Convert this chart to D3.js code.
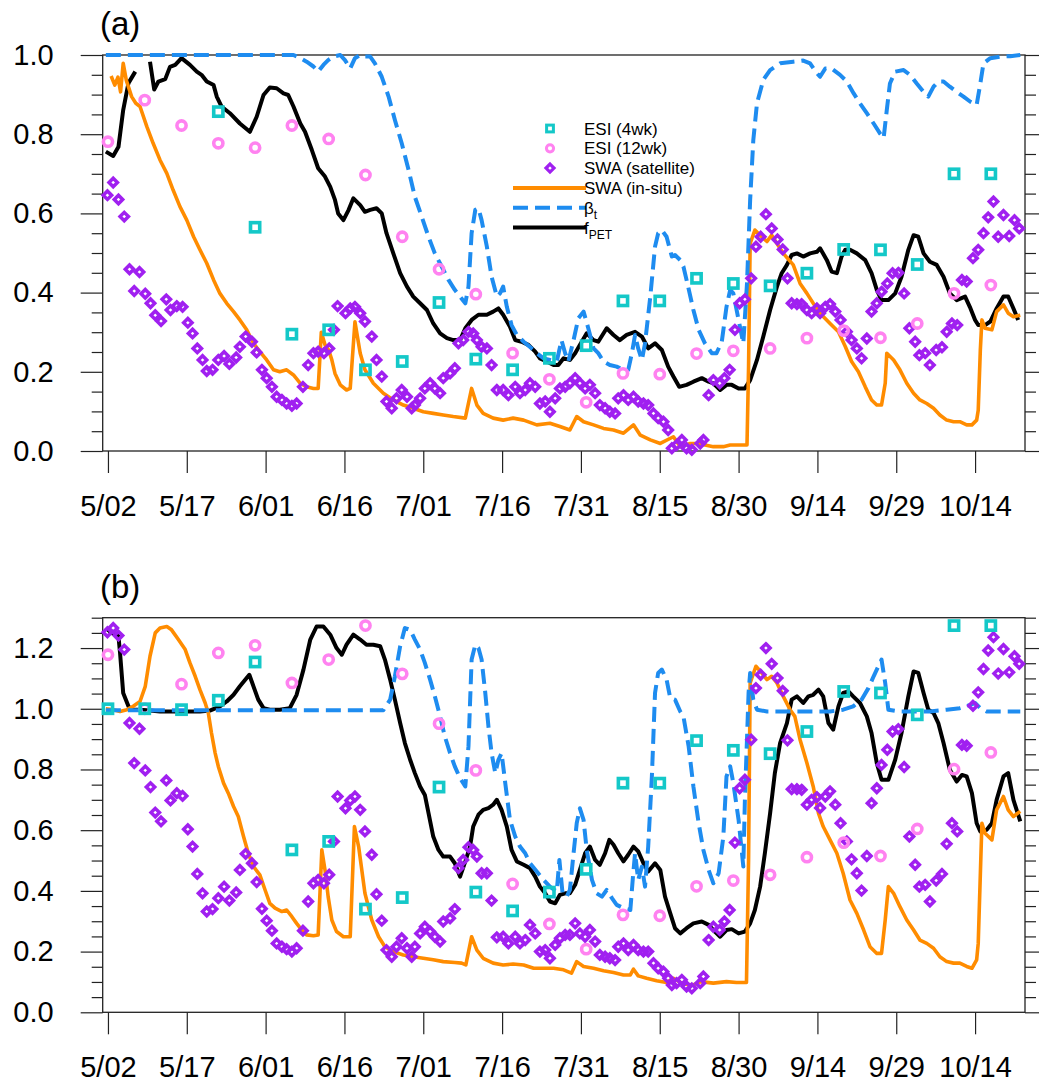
<!DOCTYPE html>
<html>
<head>
<meta charset="utf-8">
<script src="https://cdn.jsdelivr.net/npm/d3@7/dist/d3.min.js"></script>
<style>
  body { margin: 0; background: #fff; }
  svg { display: block; }
  text { font-family: "Liberation Sans", Arial, Helvetica, sans-serif; fill: #000; }
</style>
</head>
<body>
<svg id="chart" width="1039" height="1084"></svg>
<script>
// ---- time axis: day 0 = May 1 ----
const xTickDays = [1, 16, 31, 46, 61, 76, 91, 106, 121, 136, 151, 166];
const xTickLabels = ["5/02", "5/17", "6/01", "6/16", "7/01", "7/16", "7/31", "8/15", "8/30", "9/14", "9/29", "10/14"];

// ---- weekly ESI (4wk / 12wk) ----
const esiDays = [1, 8, 15, 22, 29, 36, 43, 50, 57, 64, 71, 78, 85, 92, 99, 106, 113, 120, 127, 134, 141, 148, 155, 162, 169];
const esi4A  = [null, null, null, 0.857, 0.565, 0.295, 0.306, 0.205, 0.226, 0.375, 0.232, 0.205, 0.234, 0.266, 0.379, 0.379, 0.436, 0.423, 0.417, 0.449, 0.509, 0.508, 0.471, 0.700, 0.700];
const esi12A = [0.781, 0.886, 0.822, 0.777, 0.766, 0.822, 0.788, 0.697, 0.541, 0.459, 0.396, 0.247, 0.181, 0.123, 0.196, 0.194, 0.246, 0.253, 0.259, 0.285, 0.304, 0.286, 0.322, 0.398, 0.419];
const esi4B  = [1.000, 1.000, 0.997, 1.028, 1.154, 0.535, 0.563, 0.340, 0.378, 0.742, 0.396, 0.334, 0.396, 0.471, 0.755, 0.755, 0.895, 0.863, 0.852, 0.925, 1.057, 1.052, 0.980, 1.274, 1.274];
const esi12B = [1.178, 1.000, 1.081, 1.184, 1.209, 1.085, 1.162, 1.274, 1.115, 0.951, 0.797, 0.423, 0.291, 0.208, 0.321, 0.318, 0.415, 0.434, 0.453, 0.511, 0.559, 0.515, 0.604, 0.801, 0.856];

// ---- satellite soil water availability ----
const swaDays = [
  0.9, 2.0, 3.0, 4.1, 5.1, 6.0, 7.0, 8.1, 9.1, 10.0,
  11.1, 12.1, 12.9, 14.1, 15.2, 16.2, 17.1, 18.0, 19.0, 19.8,
  20.9, 22.0, 23.1, 24.1, 25.4, 26.1, 27.2, 28.4, 29.3, 30.3,
  31.2, 32.2, 33.1, 34.1, 35.0, 36.0, 36.9, 38.1, 39.1, 40.1,
  41.0, 42.1, 43.1, 44.0, 44.7, 46.2, 47.1, 48.0, 49.0,
  49.9, 51.2, 52.1, 53.1, 54.0, 55.0, 55.9, 56.9, 57.9, 58.8,
  59.4, 60.4, 61.3, 62.3, 63.2, 64.2, 64.8, 66.1, 67.0, 67.7,
  68.6, 69.6, 70.5, 71.2, 72.1, 73.1, 74.0, 75.0, 76.2, 77.2,
  78.5, 79.4, 80.4, 81.3, 82.3, 83.2, 84.2, 85.1, 86.1, 87.0,
  88.0, 88.9, 89.9, 90.8, 91.8, 92.7, 93.7, 94.6, 95.6, 96.5,
  97.5, 98.1, 99.1, 100.0, 101.0, 101.9, 102.9, 103.8, 104.8, 105.7,
  106.7, 107.6, 108.3, 109.2, 110.2, 111.1, 112.1, 113.7,
  114.3, 115.3, 116.2, 117.4, 118.3, 119.3, 120.3, 121.2, 122.2, 123.4,
  124.3, 125.2, 126.2, 127.3, 128.4, 129.4, 130.3, 131.1, 132.1, 133.0,
  134.0, 134.9, 135.9, 136.5, 137.5, 138.4, 139.4, 140.4, 141.6, 142.5,
  143.5, 144.4, 145.4, 146.3, 147.3, 148.2, 149.3, 150.3, 151.4, 152.5,
  153.5, 154.6, 155.4, 156.5, 157.4, 158.6, 159.7, 160.6, 161.6, 162.6,
  163.5, 164.4, 165.6, 166.6, 167.6, 168.5, 169.5, 170.4, 171.4, 172.5,
  173.5, 174.4
];
const swaSatA = [
  0.646, 0.678, 0.635, 0.592, 0.459, 0.404, 0.452, 0.397, 0.373, 0.343,
  0.328, 0.383, 0.356, 0.366, 0.364, 0.324, 0.297, 0.259, 0.230, 0.202,
  0.205, 0.230, 0.240, 0.220, 0.236, 0.263, 0.289, 0.276, 0.249, 0.205,
  0.184, 0.162, 0.137, 0.129, 0.120, 0.114, 0.120, 0.162, 0.217, 0.247,
  0.251, 0.247, 0.259, 0.306, 0.366, 0.348, 0.360, 0.364, 0.348,
  0.327, 0.289, 0.230, 0.188, 0.125, 0.108, 0.133, 0.154, 0.137, 0.108,
  0.116, 0.133, 0.158, 0.171, 0.158, 0.146, 0.184, 0.196, 0.209, 0.272,
  0.280, 0.301, 0.297, 0.280, 0.263, 0.259, 0.217, 0.154, 0.154, 0.141,
  0.162, 0.146, 0.154, 0.171, 0.162, 0.120, 0.125, 0.099, 0.133, 0.158,
  0.162, 0.171, 0.184, 0.171, 0.158, 0.167, 0.146, 0.116, 0.108, 0.099,
  0.095, 0.133, 0.141, 0.129, 0.137, 0.125, 0.120, 0.116, 0.095, 0.083,
  0.074, 0.053, 0.007, 0.015, 0.028, 0.007, 0.003, 0.019,
  0.028, 0.141, 0.179, 0.171, 0.184, 0.205, 0.306, 0.373, 0.383, 0.436,
  0.516, 0.541, 0.598, 0.562, 0.534, 0.509, 0.436, 0.373, 0.371, 0.371,
  0.356, 0.348, 0.360, 0.348, 0.364, 0.371, 0.352, 0.331, 0.301, 0.280,
  0.259, 0.234, 0.284, 0.352, 0.373, 0.402, 0.423, 0.449, 0.450, 0.398,
  0.310, 0.276, 0.242, 0.247, 0.217, 0.255, 0.262, 0.301, 0.322, 0.318,
  0.432, 0.428, 0.487, 0.508, 0.550, 0.590, 0.630, 0.541, 0.596, 0.543,
  0.583, 0.562
];
const swaSatB = [
  1.252, 1.266, 1.241, 1.195, 0.953, 0.821, 0.934, 0.797, 0.742, 0.658,
  0.629, 0.764, 0.698, 0.722, 0.713, 0.603, 0.546, 0.456, 0.392, 0.332,
  0.340, 0.376, 0.414, 0.368, 0.395, 0.469, 0.522, 0.491, 0.429, 0.341,
  0.302, 0.269, 0.227, 0.216, 0.208, 0.200, 0.211, 0.269, 0.365, 0.425,
  0.436, 0.425, 0.453, 0.563, 0.711, 0.672, 0.698, 0.711, 0.667,
  0.596, 0.519, 0.389, 0.302, 0.205, 0.183, 0.216, 0.244, 0.211, 0.183,
  0.216, 0.260, 0.282, 0.266, 0.249, 0.233, 0.299, 0.310, 0.340, 0.475,
  0.502, 0.544, 0.535, 0.513, 0.458, 0.458, 0.368, 0.247, 0.249, 0.227,
  0.249, 0.227, 0.238, 0.288, 0.260, 0.200, 0.205, 0.178, 0.222, 0.244,
  0.255, 0.255, 0.293, 0.260, 0.249, 0.271, 0.233, 0.189, 0.183, 0.178,
  0.172, 0.216, 0.227, 0.205, 0.222, 0.205, 0.200, 0.200, 0.162, 0.145,
  0.134, 0.112, 0.090, 0.096, 0.107, 0.085, 0.079, 0.096,
  0.118, 0.238, 0.282, 0.271, 0.299, 0.337, 0.559, 0.738, 0.766, 0.898,
  1.068, 1.112, 1.200, 1.148, 1.101, 1.059, 0.896, 0.735, 0.735, 0.733,
  0.684, 0.700, 0.709, 0.673, 0.711, 0.728, 0.684, 0.623, 0.563, 0.504,
  0.458, 0.401, 0.515, 0.689, 0.738, 0.815, 0.865, 0.925, 0.933, 0.808,
  0.579, 0.486, 0.414, 0.420, 0.365, 0.434, 0.456, 0.555, 0.623, 0.596,
  0.881, 0.878, 1.010, 1.054, 1.131, 1.192, 1.236, 1.116, 1.197, 1.120,
  1.173, 1.148
];

// ---- in-situ soil water availability [day, value] ----
const swaInA = [
  [1.6, 0.947], [2.3, 0.924], [2.9, 0.944], [3.4, 0.907], [3.9, 0.979], [4.5, 0.936], [5.5, 0.895], [6.3, 0.878],
  [7.1, 0.870], [8.4, 0.819], [9.6, 0.777], [10.9, 0.735], [12.2, 0.701], [13.4, 0.659], [14.7, 0.617], [16.0, 0.583],
  [17.3, 0.541], [18.5, 0.508], [19.8, 0.474], [21.1, 0.432], [22.3, 0.398], [23.6, 0.373], [24.9, 0.352], [26.1, 0.331],
  [27.4, 0.306], [28.7, 0.272], [29.9, 0.251], [31.2, 0.230], [32.5, 0.205], [33.7, 0.200], [35.0, 0.205], [36.3, 0.192],
  [37.6, 0.171], [38.8, 0.162], [40.1, 0.158], [41.0, 0.158], [41.6, 0.300], [42.3, 0.268], [43.0, 0.255], [43.6, 0.230],
  [44.2, 0.196], [45.2, 0.167], [46.4, 0.154], [47.1, 0.158], [48.0, 0.326], [49.0, 0.247], [49.9, 0.205], [51.5, 0.171],
  [53.4, 0.146], [55.3, 0.129], [57.2, 0.116], [59.1, 0.108], [61.0, 0.099], [62.9, 0.095], [64.8, 0.091], [66.7, 0.087],
  [69.0, 0.083], [70.2, 0.158], [71.2, 0.116], [72.4, 0.095], [74.3, 0.083], [76.2, 0.078], [78.1, 0.083], [80.1, 0.078],
  [82.6, 0.066], [85.1, 0.070], [87.0, 0.062], [88.9, 0.053], [90.2, 0.087], [91.5, 0.074], [93.4, 0.066], [95.3, 0.057],
  [97.2, 0.053], [99.1, 0.045], [101.0, 0.066], [102.3, 0.040], [104.2, 0.028], [106.1, 0.019], [108.6, 0.036], [109.9, 0.011],
  [111.8, 0.019], [113.7, 0.019], [114.6, 0.015], [116.2, 0.011], [118.1, 0.011], [119.4, 0.015], [121.0, 0.015], [122.6, 0.015],
  [122.9, 0.213], [123.2, 0.524], [124.1, 0.558], [125.4, 0.541], [126.4, 0.529], [127.3, 0.545], [128.3, 0.524], [129.5, 0.499],
  [131.4, 0.470], [132.7, 0.423], [134.0, 0.398], [135.2, 0.373], [136.5, 0.348], [138.4, 0.322], [140.0, 0.301], [141.3, 0.264],
  [142.5, 0.226], [143.8, 0.200], [145.1, 0.162], [146.3, 0.129], [147.3, 0.116], [148.2, 0.116], [148.9, 0.171], [149.2, 0.247],
  [150.5, 0.230], [151.7, 0.205], [153.0, 0.171], [154.3, 0.146], [155.5, 0.129], [156.8, 0.120], [158.1, 0.108], [159.3, 0.091],
  [160.6, 0.078], [161.9, 0.074], [163.1, 0.074], [164.4, 0.066], [165.4, 0.066], [166.3, 0.078], [166.6, 0.103], [167.0, 0.255],
  [167.3, 0.331], [167.9, 0.310], [169.2, 0.306], [170.1, 0.352], [171.4, 0.369], [172.3, 0.348], [173.3, 0.339], [174.6, 0.343]
];
const swaInB = [
  [0.6, 1.000], [2.0, 0.997], [3.3, 0.991], [4.6, 0.997], [5.8, 1.008], [7.1, 1.024], [8.1, 1.074], [9.0, 1.173],
  [10.0, 1.250], [10.9, 1.266], [12.2, 1.271], [13.1, 1.260], [14.4, 1.228], [15.7, 1.195], [16.6, 1.151], [17.6, 1.107],
  [18.5, 1.063], [19.5, 1.019], [20.1, 0.986], [20.7, 0.920], [21.4, 0.854], [22.0, 0.810], [23.0, 0.755], [23.9, 0.722],
  [24.9, 0.678], [25.8, 0.645], [26.8, 0.579], [27.7, 0.524], [28.7, 0.480], [29.9, 0.453], [30.9, 0.403], [31.8, 0.359],
  [32.8, 0.343], [34.1, 0.332], [35.0, 0.337], [36.0, 0.315], [36.9, 0.293], [37.9, 0.271], [38.8, 0.255], [40.1, 0.252],
  [41.0, 0.255], [41.7, 0.535], [42.3, 0.469], [42.9, 0.381], [43.6, 0.304], [44.5, 0.266], [45.8, 0.249], [47.1, 0.249],
  [47.9, 0.612], [48.7, 0.546], [49.9, 0.392], [51.2, 0.304], [52.5, 0.249], [53.7, 0.216], [55.3, 0.200], [57.2, 0.189],
  [59.1, 0.183], [61.0, 0.178], [62.9, 0.173], [64.8, 0.167], [67.0, 0.164], [68.3, 0.162], [69.1, 0.156], [70.2, 0.249],
  [71.2, 0.205], [72.4, 0.178], [74.3, 0.162], [76.2, 0.156], [78.1, 0.159], [80.1, 0.156], [82.0, 0.145], [83.9, 0.145],
  [85.8, 0.145], [87.7, 0.140], [89.2, 0.129], [90.2, 0.167], [91.5, 0.151], [93.4, 0.145], [95.3, 0.137], [97.2, 0.131],
  [99.1, 0.123], [100.4, 0.123], [101.0, 0.142], [101.9, 0.120], [103.5, 0.112], [105.4, 0.104], [107.3, 0.098], [108.6, 0.112],
  [110.5, 0.093], [112.4, 0.090], [113.7, 0.101], [116.2, 0.096], [118.7, 0.101], [120.6, 0.098], [122.5, 0.098], [122.9, 0.502],
  [123.2, 1.085], [124.3, 1.140], [125.4, 1.118], [126.4, 1.096], [127.3, 1.107], [128.3, 1.085], [129.5, 1.041], [130.8, 0.997],
  [131.7, 0.975], [132.7, 0.898], [134.0, 0.821], [135.2, 0.744], [136.2, 0.656], [137.1, 0.612], [138.4, 0.568], [139.7, 0.524],
  [140.9, 0.458], [142.2, 0.370], [143.5, 0.326], [144.8, 0.271], [146.0, 0.216], [147.3, 0.194], [148.2, 0.194], [148.9, 0.304],
  [149.5, 0.414], [150.5, 0.392], [151.7, 0.348], [153.0, 0.304], [154.3, 0.271], [155.5, 0.238], [156.8, 0.227], [158.1, 0.211],
  [159.3, 0.183], [160.6, 0.167], [161.9, 0.162], [163.1, 0.162], [164.4, 0.151], [165.4, 0.145], [166.3, 0.173], [166.6, 0.227],
  [167.3, 0.623], [167.9, 0.590], [169.2, 0.568], [170.1, 0.667], [171.4, 0.711], [172.3, 0.667], [173.3, 0.645], [174.6, 0.662]
];

// ---- beta_t [day, value] ----
const betaA = [
  [0.6, 1.0], [36.3, 1.0], [37.6, 0.992], [38.8, 0.983], [40.1, 0.971], [41.0, 0.958], [42.0, 0.975], [42.9, 0.987],
  [43.9, 0.996], [45.2, 1.0], [46.1, 0.987], [47.1, 0.966], [48.0, 0.992], [49.0, 1.0], [49.9, 0.996], [50.9, 0.996],
  [51.8, 0.979], [53.1, 0.945], [54.4, 0.895], [55.6, 0.836], [56.9, 0.777], [58.2, 0.710], [59.4, 0.642], [60.7, 0.592],
  [62.0, 0.541], [63.2, 0.499], [64.5, 0.466], [65.8, 0.432], [67.0, 0.407], [68.0, 0.390], [69.0, 0.373], [69.6, 0.415],
  [70.2, 0.550], [70.9, 0.609], [71.5, 0.613], [72.1, 0.583], [73.1, 0.516], [74.0, 0.440], [75.0, 0.390], [75.6, 0.398],
  [76.2, 0.415], [76.9, 0.364], [77.8, 0.318], [78.8, 0.293], [80.1, 0.276], [81.3, 0.263], [82.6, 0.247], [83.9, 0.234],
  [85.1, 0.230], [86.4, 0.226], [87.3, 0.280], [88.0, 0.247], [88.6, 0.226], [89.6, 0.280], [90.5, 0.335], [91.5, 0.352],
  [92.4, 0.310], [93.4, 0.259], [94.3, 0.247], [95.3, 0.226], [96.5, 0.217], [97.8, 0.213], [99.1, 0.205], [100.0, 0.205],
  [100.7, 0.247], [101.3, 0.293], [101.9, 0.259], [102.6, 0.230], [103.2, 0.272], [104.2, 0.390], [105.1, 0.516], [105.7, 0.550],
  [106.4, 0.558], [107.3, 0.541], [108.3, 0.491], [108.9, 0.495], [109.9, 0.482], [110.5, 0.466], [111.4, 0.415], [112.4, 0.356],
  [113.4, 0.306], [114.6, 0.272], [115.9, 0.247], [116.8, 0.247], [117.8, 0.276], [118.7, 0.364], [119.4, 0.407], [120.0, 0.398],
  [121.0, 0.331], [121.9, 0.272], [122.6, 0.423], [123.2, 0.634], [123.8, 0.785], [124.5, 0.878], [125.7, 0.937], [127.0, 0.962],
  [128.9, 0.979], [131.4, 0.983], [133.3, 0.986], [134.6, 0.979], [135.9, 0.954], [136.5, 0.945], [137.5, 0.966], [138.7, 0.966],
  [140.3, 0.950], [141.6, 0.933], [142.9, 0.903], [144.1, 0.878], [145.4, 0.853], [146.7, 0.827], [147.9, 0.802], [148.6, 0.790],
  [149.2, 0.861], [149.8, 0.928], [150.8, 0.958], [152.4, 0.962], [153.6, 0.950], [154.9, 0.928], [156.2, 0.907], [157.1, 0.895],
  [158.1, 0.920], [159.0, 0.933], [160.0, 0.933], [161.2, 0.920], [162.5, 0.907], [163.8, 0.895], [165.1, 0.882], [166.3, 0.874],
  [167.0, 0.928], [167.6, 0.979], [168.9, 0.992], [170.8, 0.996], [172.7, 0.997], [174.6, 1.0]
];
const betaB = [
  [0.6, 0.995], [53.4, 0.995], [54.7, 1.030], [55.6, 1.107], [56.6, 1.206], [57.5, 1.266], [58.5, 1.260], [59.4, 1.228],
  [60.4, 1.195], [61.3, 1.151], [62.3, 1.096], [63.2, 1.041], [64.2, 0.975], [65.1, 0.909], [66.1, 0.854], [67.0, 0.810],
  [68.0, 0.771], [69.0, 0.744], [69.6, 0.876], [70.2, 1.162], [70.9, 1.211], [71.5, 1.200], [72.1, 1.162], [72.8, 1.052],
  [73.4, 0.942], [74.0, 0.854], [74.7, 0.788], [75.3, 0.832], [75.9, 0.854], [76.6, 0.755], [77.5, 0.634], [78.5, 0.579],
  [79.4, 0.546], [80.4, 0.524], [81.3, 0.491], [82.6, 0.464], [83.9, 0.436], [85.1, 0.414], [86.4, 0.398], [86.9, 0.502],
  [87.5, 0.392], [88.3, 0.381], [88.9, 0.403], [89.6, 0.524], [90.2, 0.623], [90.8, 0.672], [91.5, 0.634], [92.1, 0.535],
  [93.1, 0.436], [94.0, 0.392], [95.0, 0.381], [95.9, 0.403], [96.9, 0.376], [97.8, 0.354], [99.1, 0.343], [100.4, 0.337],
  [100.9, 0.447], [101.3, 0.524], [101.9, 0.436], [102.6, 0.480], [103.2, 0.414], [103.8, 0.546], [104.5, 0.777], [105.1, 1.052],
  [105.7, 1.118], [106.4, 1.129], [107.3, 1.096], [108.0, 1.035], [108.9, 1.030], [109.9, 0.991], [110.5, 0.975], [111.5, 0.876],
  [112.4, 0.744], [113.4, 0.623], [114.3, 0.535], [115.3, 0.469], [116.2, 0.425], [117.2, 0.458], [118.1, 0.579], [118.7, 0.777],
  [119.4, 0.810], [120.0, 0.755], [121.0, 0.634], [121.9, 0.480], [122.2, 0.700], [122.9, 1.052], [123.2, 1.118], [123.8, 1.030],
  [124.5, 0.997], [126.4, 0.991], [128.9, 0.991], [132.1, 0.991], [135.2, 0.991], [138.4, 0.991], [140.9, 0.997], [142.8, 1.008],
  [144.4, 1.030], [145.7, 1.068], [146.7, 1.107], [147.6, 1.140], [148.2, 1.162], [148.9, 1.085], [149.5, 0.997], [151.7, 0.991],
  [154.3, 0.991], [157.4, 0.991], [160.6, 0.997], [163.1, 1.002], [165.1, 1.013], [166.0, 1.019], [167.0, 1.002], [168.2, 0.991],
  [170.8, 0.991], [174.6, 0.991]
];

// ---- f_PET [day, value]; null marks a data gap ----
const fpetA = [
  [0.6, 0.756], [2.0, 0.745], [3.0, 0.768], [3.9, 0.861], [4.9, 0.929], [6.2, 0.958], null,
  [9.0, 0.983], [9.8, 0.913], [10.6, 0.933], [11.9, 0.939], [12.8, 0.970], [13.8, 0.975], [15.0, 0.992], [16.6, 0.975],
  [17.9, 0.958], [18.8, 0.950], [19.8, 0.933], [21.1, 0.924], [21.7, 0.895], [22.6, 0.870], [24.2, 0.853], [26.1, 0.827],
  [28.0, 0.806], [29.3, 0.844], [30.6, 0.899], [31.8, 0.918], [33.1, 0.916], [34.4, 0.903], [35.3, 0.899], [36.3, 0.870],
  [37.6, 0.827], [38.5, 0.806], [39.8, 0.760], [41.0, 0.714], [42.3, 0.693], [43.3, 0.667], [44.2, 0.634], [44.8, 0.600],
  [45.8, 0.583], [46.8, 0.609], [47.7, 0.638], [49.0, 0.621], [49.9, 0.604], [50.9, 0.609], [52.1, 0.613], [53.1, 0.600],
  [54.0, 0.550], [55.3, 0.499], [56.6, 0.449], [57.9, 0.415], [59.1, 0.390], [60.4, 0.373], [61.7, 0.356], [62.9, 0.322],
  [64.2, 0.297], [65.5, 0.285], [66.7, 0.280], [68.0, 0.280], [69.0, 0.310], [70.2, 0.331], [71.5, 0.344], [73.1, 0.344],
  [74.3, 0.352], [75.3, 0.360], [76.2, 0.344], [77.5, 0.314], [78.5, 0.280], [79.7, 0.276], [81.0, 0.268], [82.3, 0.251],
  [83.2, 0.234], [84.5, 0.226], [85.8, 0.217], [86.7, 0.217], [87.7, 0.234], [88.9, 0.230], [89.9, 0.247], [90.8, 0.268],
  [92.1, 0.297], [93.4, 0.280], [94.3, 0.276], [95.9, 0.310], [97.2, 0.293], [98.4, 0.280], [99.7, 0.293], [101.3, 0.301],
  [102.6, 0.289], [103.8, 0.259], [105.1, 0.272], [106.4, 0.255], [107.6, 0.213], [108.6, 0.188], [109.7, 0.162], [111.1, 0.167],
  [112.4, 0.175], [114.0, 0.184], [115.3, 0.175], [116.2, 0.171], [117.5, 0.154], [118.7, 0.167], [119.7, 0.167], [121.0, 0.158],
  [122.2, 0.158], [123.2, 0.179], [124.5, 0.230], [125.7, 0.289], [127.0, 0.356], [128.3, 0.415], [129.2, 0.449], [130.2, 0.470],
  [131.1, 0.495], [132.1, 0.499], [133.3, 0.491], [134.6, 0.499], [135.9, 0.503], [136.5, 0.512], [137.8, 0.482], [138.7, 0.453],
  [139.7, 0.449], [140.6, 0.491], [141.3, 0.508], [142.2, 0.508], [143.5, 0.499], [145.1, 0.482], [146.3, 0.449], [147.3, 0.407],
  [148.2, 0.381], [149.5, 0.381], [150.8, 0.398], [152.0, 0.440], [153.3, 0.508], [154.3, 0.545], [155.2, 0.541], [156.2, 0.499],
  [157.4, 0.478], [158.7, 0.470], [160.0, 0.440], [161.2, 0.398], [162.5, 0.381], [164.1, 0.390], [165.0, 0.364], [166.0, 0.331],
  [166.6, 0.318], [167.9, 0.318], [168.9, 0.327], [170.1, 0.360], [171.4, 0.390], [172.3, 0.390], [173.3, 0.360], [174.2, 0.331]
];
const fpetB = [
  [0.6, 1.266], [1.7, 1.250], [3.0, 1.239], [3.3, 1.184], [3.9, 1.052], [4.9, 1.008], [5.5, 0.997], [7.1, 0.997],
  [9.0, 0.994], [10.9, 0.991], [12.8, 0.991], [14.7, 0.991], [16.6, 0.991], [18.5, 0.991], [20.4, 0.994], [22.3, 1.008],
  [23.6, 1.024], [24.9, 1.046], [26.1, 1.074], [27.9, 1.112], [29.6, 1.030], [30.6, 1.002], [31.8, 0.997], [33.7, 0.997],
  [35.6, 1.002], [36.9, 1.046], [38.2, 1.129], [39.5, 1.228], [40.7, 1.271], [42.0, 1.271], [43.3, 1.244], [44.5, 1.200],
  [45.5, 1.178], [46.4, 1.211], [47.7, 1.244], [49.0, 1.228], [50.2, 1.211], [51.5, 1.211], [52.8, 1.206], [53.7, 1.162],
  [54.7, 1.096], [55.6, 1.030], [56.6, 0.953], [57.5, 0.887], [58.5, 0.832], [59.4, 0.788], [60.4, 0.744], [61.3, 0.716],
  [62.0, 0.656], [62.9, 0.579], [63.9, 0.535], [64.8, 0.513], [66.1, 0.513], [67.0, 0.491], [68.0, 0.447], [69.0, 0.497],
  [69.9, 0.546], [70.5, 0.612], [71.5, 0.651], [72.4, 0.667], [73.4, 0.673], [74.3, 0.684], [75.0, 0.700], [75.9, 0.667],
  [76.9, 0.612], [77.8, 0.535], [78.8, 0.497], [80.1, 0.486], [81.3, 0.475], [82.3, 0.447], [83.2, 0.414], [84.2, 0.392],
  [85.1, 0.365], [86.1, 0.359], [87.0, 0.387], [88.0, 0.392], [88.9, 0.392], [89.9, 0.420], [90.8, 0.469], [91.8, 0.524],
  [92.7, 0.546], [93.7, 0.502], [94.6, 0.486], [95.6, 0.524], [96.4, 0.568], [97.2, 0.552], [98.1, 0.524], [99.1, 0.497],
  [100.0, 0.519], [101.0, 0.546], [101.9, 0.530], [102.9, 0.491], [103.8, 0.464], [105.1, 0.491], [106.1, 0.469], [107.0, 0.381],
  [108.0, 0.326], [108.9, 0.277], [109.9, 0.260], [111.1, 0.277], [112.4, 0.293], [114.0, 0.299], [115.3, 0.288], [116.2, 0.271],
  [117.5, 0.249], [118.7, 0.271], [119.7, 0.274], [121.0, 0.260], [122.2, 0.266], [123.2, 0.293], [124.1, 0.337], [125.1, 0.414],
  [126.0, 0.524], [127.0, 0.656], [127.9, 0.788], [128.9, 0.887], [130.2, 0.953], [131.1, 1.030], [132.1, 1.041], [133.3, 1.019],
  [134.3, 1.041], [135.2, 1.046], [136.2, 1.063], [137.1, 1.041], [138.1, 0.953], [139.0, 0.931], [140.0, 1.008], [140.9, 1.052],
  [141.9, 1.057], [142.8, 1.041], [144.1, 1.019], [145.4, 0.975], [146.3, 0.920], [147.3, 0.821], [148.2, 0.766], [149.5, 0.766],
  [150.8, 0.832], [152.0, 0.920], [153.3, 1.041], [154.3, 1.123], [155.2, 1.118], [156.2, 1.052], [157.1, 0.997], [158.1, 0.986],
  [159.0, 0.953], [160.0, 0.887], [161.2, 0.799], [162.5, 0.760], [163.5, 0.782], [164.4, 0.777], [165.4, 0.722], [166.3, 0.623],
  [167.0, 0.596], [168.2, 0.601], [169.2, 0.623], [170.1, 0.700], [171.4, 0.777], [172.3, 0.788], [173.3, 0.700], [174.1, 0.656],
  [174.6, 0.629]
];

// ---- styling ----
const COLORS = {
  esi4: "#14c8c8",
  esi12: "#ff82f0",
  swaSat: "#a020f0",
  swaIn: "#ff8c00",
  beta: "#1e8cf0",
  fpet: "#000000"
};
const FONT = '"Liberation Sans", Arial, Helvetica, sans-serif';
const DASH = "15,7";

const svg = d3.select("#chart");
const x = d3.scaleLinear().domain([0, 175.5]).range([102.7, 1025]);

function diamondPath(r) {
  return `M0,${-r}L${r},0L0,${r}L${-r},0Z`;
}

function drawPanel(p) {
  const y = d3.scaleLinear().domain([0, p.yMax]).range([p.bottom, p.top]);
  const g = svg.append("g");

  const majors = d3.range(0, p.yMax + 1e-9, 0.2).map(v => +v.toFixed(2));
  const minors = d3.range(0, p.yMax + 1e-9, 0.05).map(v => +v.toFixed(2))
    .filter(v => Math.abs(v / 0.2 - Math.round(v / 0.2)) > 1e-6);

  // y axes (left labelled, right mirrored)
  const styleAxis = sel => {
    sel.select(".domain").remove();
    sel.selectAll("line").attr("stroke", "#222").attr("stroke-width", 1.2);
    sel.selectAll("text").attr("font-size", 29).style("font-family", FONT);
  };
  g.append("g").attr("transform", "translate(102.7,0)")
    .call(d3.axisLeft(y).tickValues(majors).tickSize(22).tickPadding(27).tickFormat(d3.format(".1f")))
    .call(styleAxis);
  g.append("g").attr("transform", "translate(102.7,0)")
    .call(d3.axisLeft(y).tickValues(minors).tickSize(11).tickFormat(""))
    .call(styleAxis);
  g.append("g").attr("transform", "translate(1025,0)")
    .call(d3.axisRight(y).tickValues(majors).tickSize(22).tickFormat(""))
    .call(styleAxis);
  g.append("g").attr("transform", "translate(1025,0)")
    .call(d3.axisRight(y).tickValues(minors).tickSize(11).tickFormat(""))
    .call(styleAxis);

  // x axis
  g.append("g").attr("transform", `translate(0,${p.bottom})`)
    .call(d3.axisBottom(x).tickValues(xTickDays).tickSize(22).tickPadding(22)
      .tickFormat((d, i) => xTickLabels[i]))
    .call(styleAxis);

  // frame
  g.append("rect")
    .attr("x", x.range()[0]).attr("y", p.top)
    .attr("width", x.range()[1] - x.range()[0]).attr("height", p.bottom - p.top)
    .attr("fill", "none").attr("stroke", "#222").attr("stroke-width", 1.3);

  // panel label
  g.append("text").attr("x", 100).attr("y", p.top - 20)
    .attr("font-size", 33).text(p.label);

  const line = d3.line().defined(d => d !== null).x(d => x(d[0])).y(d => y(d[1]));

  g.append("path").datum(p.fpet).attr("d", line)
    .attr("fill", "none").attr("stroke", COLORS.fpet).attr("stroke-width", 4)
    .attr("stroke-linejoin", "round");
  g.append("path").datum(p.swaIn).attr("d", line)
    .attr("fill", "none").attr("stroke", COLORS.swaIn).attr("stroke-width", 3.6)
    .attr("stroke-linejoin", "round");
  g.append("path").datum(p.beta).attr("d", line)
    .attr("fill", "none").attr("stroke", COLORS.beta).attr("stroke-width", 4)
    .attr("stroke-dasharray", DASH).attr("stroke-linejoin", "round");

  // satellite SWA diamonds
  g.append("g").selectAll("path")
    .data(swaDays.map((d, i) => [d, p.swaSat[i]]))
    .join("path")
    .attr("transform", d => `translate(${x(d[0])},${y(d[1])})`)
    .attr("d", diamondPath(4.2))
    .attr("fill", "none").attr("stroke", COLORS.swaSat).attr("stroke-width", 3.5);

  // ESI 12wk circles
  g.append("g").selectAll("circle")
    .data(esiDays.map((d, i) => [d, p.esi12[i]]).filter(d => d[1] !== null))
    .join("circle")
    .attr("cx", d => x(d[0])).attr("cy", d => y(d[1])).attr("r", 4.6)
    .attr("fill", "none").attr("stroke", COLORS.esi12).attr("stroke-width", 3.6);

  // ESI 4wk squares
  g.append("g").selectAll("rect")
    .data(esiDays.map((d, i) => [d, p.esi4[i]]).filter(d => d[1] !== null))
    .join("rect")
    .attr("x", d => x(d[0]) - 4.6).attr("y", d => y(d[1]) - 4.6)
    .attr("width", 9.2).attr("height", 9.2)
    .attr("fill", "none").attr("stroke", COLORS.esi4).attr("stroke-width", 3.6);

  if (p.legend) drawLegend(g);
}

function drawLegend(g) {
  const rows = [128.5, 148.3, 168.1, 187.9, 207.7, 227.5];
  const mx = 550, tx = 584, fs = 17;
  const lg = g.append("g");
  lg.append("rect").attr("x", mx - 3.4).attr("y", rows[0] - 3.4).attr("width", 6.8).attr("height", 6.8)
    .attr("fill", "none").attr("stroke", COLORS.esi4).attr("stroke-width", 3);
  lg.append("circle").attr("cx", mx).attr("cy", rows[1]).attr("r", 3.6)
    .attr("fill", "none").attr("stroke", COLORS.esi12).attr("stroke-width", 3);
  lg.append("path").attr("transform", `translate(${mx},${rows[2]})`).attr("d", diamondPath(4))
    .attr("fill", "none").attr("stroke", COLORS.swaSat).attr("stroke-width", 3.2);
  const seg = (yy, color, dash) => lg.append("line")
    .attr("x1", 513).attr("x2", 586).attr("y1", yy).attr("y2", yy)
    .attr("stroke", color).attr("stroke-width", 4).attr("stroke-dasharray", dash);
  seg(rows[3], COLORS.swaIn, null);
  seg(rows[4], COLORS.beta, DASH);
  seg(rows[5], COLORS.fpet, null);

  const label = (i, txt) => lg.append("text").attr("x", tx).attr("y", rows[i])
    .attr("dy", "0.36em").attr("font-size", fs).text(txt);
  label(0, "ESI (4wk)");
  label(1, "ESI (12wk)");
  label(2, "SWA (satellite)");
  label(3, "SWA (in-situ)");
  const b = lg.append("text").attr("x", tx).attr("y", rows[4]).attr("dy", "0.36em").attr("font-size", fs);
  b.append("tspan").text("β");
  b.append("tspan").attr("font-size", 12).attr("dy", 5).text("t");
  const f = lg.append("text").attr("x", tx).attr("y", rows[5]).attr("dy", "0.36em").attr("font-size", fs);
  f.append("tspan").text("f");
  f.append("tspan").attr("font-size", 12).attr("dy", 5).text("PET");
}

drawPanel({
  label: "(a)", top: 55, bottom: 451, yMax: 1.0, legend: true,
  fpet: fpetA, swaIn: swaInA, beta: betaA, swaSat: swaSatA, esi4: esi4A, esi12: esi12A
});
drawPanel({
  label: "(b)", top: 617.7, bottom: 1012.3, yMax: 1.3, legend: false,
  fpet: fpetB, swaIn: swaInB, beta: betaB, swaSat: swaSatB, esi4: esi4B, esi12: esi12B
});
</script>
</body>
</html>
